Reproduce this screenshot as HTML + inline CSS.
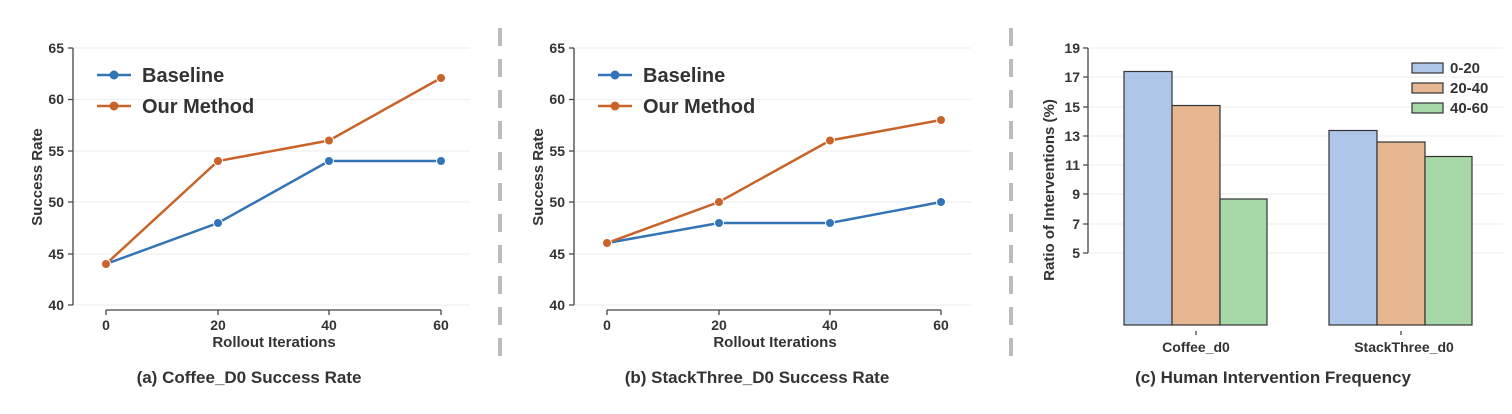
<!DOCTYPE html>
<html><head><style>body{margin:0;background:#fff}svg{display:block}text{font-family:"Liberation Sans",sans-serif;font-weight:bold;fill:#333}</style></head><body>
<svg width="1512" height="414" viewBox="0 0 1512 414">
<g stroke="#bbb" stroke-width="4" stroke-dasharray="18,13"><line x1="500" y1="28" x2="500" y2="362"/><line x1="1011" y1="28" x2="1011" y2="362"/></g>
<!-- Chart A -->
<g>
<g stroke="#eee" stroke-width="1"><line x1="74" y1="48" x2="470" y2="48"/><line x1="74" y1="99.5" x2="470" y2="99.5"/><line x1="74" y1="151" x2="470" y2="151"/><line x1="74" y1="202" x2="470" y2="202"/><line x1="74" y1="254" x2="470" y2="254"/><line x1="74" y1="305" x2="470" y2="305"/></g>
<g stroke="#444" stroke-width="1.3" fill="none"><path d="M73 48V305M68 48H73M68 99.5H73M68 151H73M68 202H73M68 254H73M68 305H73"/><path d="M106 310H441M106 310v5M218 310v5M329 310v5M441 310v5"/></g>
<g font-size="14" text-anchor="end"><text x="64" y="53">65</text><text x="64" y="104">60</text><text x="64" y="156">55</text><text x="64" y="207">50</text><text x="64" y="259">45</text><text x="64" y="310">40</text></g>
<g font-size="14" text-anchor="middle"><text x="106" y="330">0</text><text x="218" y="330">20</text><text x="329" y="330">40</text><text x="441" y="330">60</text></g>
<text x="274" y="347" font-size="15" text-anchor="middle">Rollout Iterations</text>
<text transform="translate(42,177) rotate(-90)" font-size="15" text-anchor="middle">Success Rate</text>
<polyline points="106,264 218,223 329,161 441,161" fill="none" stroke="#3274b5" stroke-width="2.5"/>
<polyline points="106,264 218,161 329,140.5 441,78" fill="none" stroke="#c8642a" stroke-width="2.5"/>
<g fill="#3274b5" stroke="#fff" stroke-width="1"><circle cx="106" cy="264" r="4.5"/><circle cx="218" cy="223" r="4.5"/><circle cx="329" cy="161" r="4.5"/><circle cx="441" cy="161" r="4.5"/></g>
<g fill="#c8642a" stroke="#fff" stroke-width="1"><circle cx="106" cy="264" r="4.5"/><circle cx="218" cy="161" r="4.5"/><circle cx="329" cy="140.5" r="4.5"/><circle cx="441" cy="78" r="4.5"/></g>
<line x1="97" y1="75" x2="131" y2="75" stroke="#3274b5" stroke-width="2.5"/><circle cx="114" cy="75" r="4.5" fill="#3274b5"/>
<line x1="97" y1="106" x2="131" y2="106" stroke="#c8642a" stroke-width="2.5"/><circle cx="114" cy="106" r="4.5" fill="#c8642a"/>
<text x="142" y="82" font-size="20">Baseline</text><text x="142" y="113" font-size="20">Our Method</text>
<text x="249" y="383" font-size="17" fill="#111" text-anchor="middle">(a) Coffee_D0 Success Rate</text>
</g>
<!-- Chart B -->
<g>
<g stroke="#eee" stroke-width="1"><line x1="575" y1="48" x2="971" y2="48"/><line x1="575" y1="99.5" x2="971" y2="99.5"/><line x1="575" y1="151" x2="971" y2="151"/><line x1="575" y1="202" x2="971" y2="202"/><line x1="575" y1="254" x2="971" y2="254"/><line x1="575" y1="305" x2="971" y2="305"/></g>
<g stroke="#444" stroke-width="1.3" fill="none"><path d="M574 48V305M569 48H574M569 99.5H574M569 151H574M569 202H574M569 254H574M569 305H574"/><path d="M607 310H941M607 310v5M719 310v5M830 310v5M941 310v5"/></g>
<g font-size="14" text-anchor="end"><text x="565" y="53">65</text><text x="565" y="104">60</text><text x="565" y="156">55</text><text x="565" y="207">50</text><text x="565" y="259">45</text><text x="565" y="310">40</text></g>
<g font-size="14" text-anchor="middle"><text x="607" y="330">0</text><text x="719" y="330">20</text><text x="830" y="330">40</text><text x="941" y="330">60</text></g>
<text x="775" y="347" font-size="15" text-anchor="middle">Rollout Iterations</text>
<text transform="translate(543,177) rotate(-90)" font-size="15" text-anchor="middle">Success Rate</text>
<polyline points="607,243 719,223 830,223 941,202" fill="none" stroke="#3274b5" stroke-width="2.5"/>
<polyline points="607,243 719,202 830,140.5 941,120" fill="none" stroke="#c8642a" stroke-width="2.5"/>
<g fill="#3274b5" stroke="#fff" stroke-width="1"><circle cx="719" cy="223" r="4.5"/><circle cx="830" cy="223" r="4.5"/><circle cx="941" cy="202" r="4.5"/></g>
<g fill="#c8642a" stroke="#fff" stroke-width="1"><circle cx="607" cy="243" r="4.5"/><circle cx="719" cy="202" r="4.5"/><circle cx="830" cy="140.5" r="4.5"/><circle cx="941" cy="120" r="4.5"/></g>
<line x1="598" y1="75" x2="632" y2="75" stroke="#3274b5" stroke-width="2.5"/><circle cx="615" cy="75" r="4.5" fill="#3274b5"/>
<line x1="598" y1="106" x2="632" y2="106" stroke="#c8642a" stroke-width="2.5"/><circle cx="615" cy="106" r="4.5" fill="#c8642a"/>
<text x="643" y="82" font-size="20">Baseline</text><text x="643" y="113" font-size="20">Our Method</text>
<text x="757" y="383" font-size="17" fill="#111" text-anchor="middle">(b) StackThree_D0 Success Rate</text>
</g>
<!-- Chart C -->
<g>
<g stroke="#eee" stroke-width="1"><line x1="1089" y1="48" x2="1503" y2="48"/><line x1="1089" y1="77" x2="1503" y2="77"/><line x1="1089" y1="107" x2="1503" y2="107"/><line x1="1089" y1="136" x2="1503" y2="136"/><line x1="1089" y1="165" x2="1503" y2="165"/><line x1="1089" y1="194" x2="1503" y2="194"/><line x1="1089" y1="224" x2="1503" y2="224"/><line x1="1089" y1="253" x2="1503" y2="253"/></g>
<g stroke="#444" stroke-width="1.3" fill="none"><path d="M1088 48V253M1083 48H1088M1083 77H1088M1083 107H1088M1083 136H1088M1083 165H1088M1083 194H1088M1083 224H1088M1083 253H1088"/><path d="M1196 331v4M1401 331v4"/></g>
<g font-size="14" text-anchor="end"><text x="1080" y="53">19</text><text x="1080" y="82">17</text><text x="1080" y="112">15</text><text x="1080" y="141">13</text><text x="1080" y="170">11</text><text x="1080" y="199">9</text><text x="1080" y="229">7</text><text x="1080" y="258">5</text></g>
<g stroke="#333" stroke-width="1.2">
<rect x="1124" y="71.5" width="48" height="253.5" fill="#aec7e8"/><rect x="1172" y="105.5" width="48" height="219.5" fill="#e5b690"/><rect x="1220" y="199" width="47" height="126" fill="#a6d8a8"/>
<rect x="1329" y="130.5" width="48" height="194.5" fill="#aec7e8"/><rect x="1377" y="142" width="48" height="183" fill="#e5b690"/><rect x="1425" y="156.5" width="47" height="168.5" fill="#a6d8a8"/>
<rect x="1412" y="63" width="31" height="10" fill="#aec7e8"/><rect x="1412" y="83" width="31" height="10" fill="#e5b690"/><rect x="1412" y="103" width="31" height="10" fill="#a6d8a8"/>
</g>
<g font-size="15"><text x="1450" y="73">0-20</text><text x="1450" y="93">20-40</text><text x="1450" y="113">40-60</text></g>
<g font-size="14" text-anchor="middle"><text x="1196" y="352">Coffee_d0</text><text x="1404" y="352">StackThree_d0</text></g>
<text transform="translate(1054,190) rotate(-90)" font-size="15" text-anchor="middle">Ratio of Interventions (%)</text>
<text x="1273" y="383" font-size="17" fill="#111" text-anchor="middle">(c) Human Intervention Frequency</text>
</g>
</svg>
</body></html>
